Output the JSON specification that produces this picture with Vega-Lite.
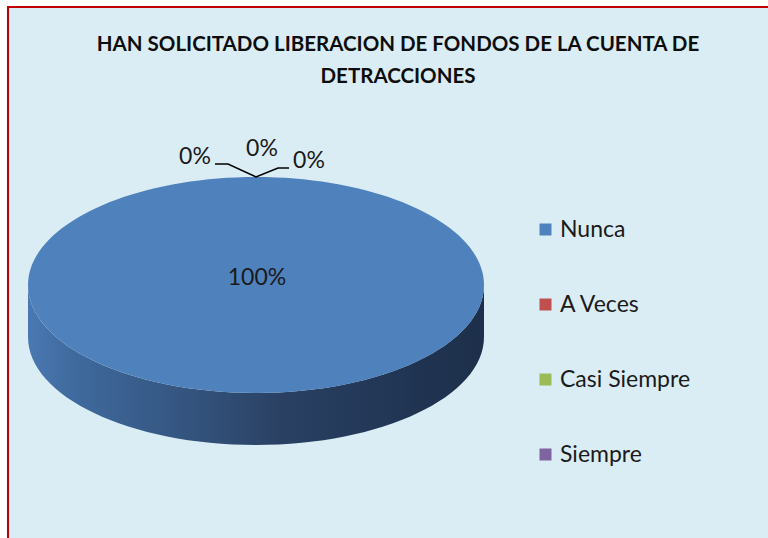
{
  "$schema": "https://vega.github.io/schema/vega-lite/v6.json",
  "width": 760,
  "height": 531,
  "autosize": {"type": "none"},
  "padding": {"left": 8, "top": 7, "right": 0, "bottom": 0},
  "background": "white",
  "config": {
    "font": "Lato",
    "view": {"fill": "#dbedf4", "stroke": "#c00000", "strokeWidth": 2, "strokeDash": [760, 1291, 531]},
    "axis": {"disable": true}
  },
  "title": {
    "text": ["HAN SOLICITADO LIBERACION DE FONDOS DE LA CUENTA DE", "DETRACCIONES"],
    "font": "Lato",
    "fontSize": 20.5,
    "fontWeight": "bold",
    "color": "#0d0d0d",
    "lineHeight": 32,
    "anchor": "middle",
    "offset": -80,
    "dx": 10
  },
  "data": {
    "values": [
      {"category": "Nunca", "value": 1},
      {"category": "A Veces", "value": 0},
      {"category": "Casi Siempre", "value": 0},
      {"category": "Siempre", "value": 0}
    ]
  },
  "encoding": {
    "x": {"datum": 0, "type": "quantitative", "scale": {"domain": [-1, 1], "range": [20, 476]}, "axis": null},
    "y": {"datum": 0, "type": "quantitative", "scale": {"domain": [-1, 1], "range": [386, 170]}, "axis": null}
  },
  "layer": [
    {
      "transform": [{"filter": "datum.value > 0"}],
      "mark": {
        "type": "point",
        "filled": true,
        "opacity": 1,
        "strokeWidth": 0,
        "size": 207936,
        "shape": "M -1 0 L -1 0.228 C -1 0.4896 -0.5523 0.7017 0 0.7017 C 0.5523 0.7017 1 0.4896 1 0.228 L 1 0 C 1 0.2616 0.5523 0.4737 0 0.4737 C -0.5523 0.4737 -1 0.2616 -1 0 Z",
        "fill": {
          "gradient": "linear",
          "x1": 0, "y1": 0, "x2": 1, "y2": 0,
          "stops": [
            {"offset": 0, "color": "#4a78b2"},
            {"offset": 0.1, "color": "#3f6a9e"},
            {"offset": 0.35, "color": "#34547e"},
            {"offset": 0.55, "color": "#2a4164"},
            {"offset": 0.85, "color": "#203452"},
            {"offset": 1, "color": "#1d2f4a"}
          ]
        }
      }
    },
    {
      "transform": [{"filter": "datum.value > 0"}],
      "mark": {
        "type": "point",
        "filled": true,
        "opacity": 1,
        "strokeWidth": 0,
        "size": 207936,
        "shape": "M -1 0 C -1 -0.2616 -0.5523 -0.4737 0 -0.4737 C 0.5523 -0.4737 1 -0.2616 1 0 C 1 0.2616 0.5523 0.4737 0 0.4737 C -0.5523 0.4737 -1 0.2616 -1 0 Z"
      },
      "encoding": {
        "color": {
          "field": "category",
          "type": "nominal",
          "scale": {
            "domain": ["Nunca", "A Veces", "Casi Siempre", "Siempre"],
            "range": ["#4f81bd", "#c0504d", "#9bbb59", "#8064a2"]
          },
          "legend": {
            "title": null,
            "orient": "none",
            "legendX": 526,
            "legendY": 211,
            "padding": 0,
            "symbolType": "square",
            "symbolSize": 144,
            "symbolStrokeWidth": 0,
            "symbolOpacity": 1,
            "labelFont": "Lato",
            "labelFontSize": 23,
            "labelColor": "#1a1a1a",
            "labelOffset": 3,
            "rowPadding": 51
          }
        }
      }
    },
    {
      "transform": [{"filter": "datum.value > 0"}],
      "mark": {"type": "text", "fontSize": 23, "color": "#1a1a1a", "dy": -7, "dx": 1},
      "encoding": {"text": {"field": "value", "type": "quantitative", "format": ".0%"}}
    },
    {
      "mark": {"type": "point", "shape": "M -41 -13 L -28 -13 L 0 0 L 22 -9 L 33 -9", "size": 4, "filled": false, "stroke": "black", "strokeWidth": 1.6, "opacity": 1},
      "data": {"values": [{}]},
      "encoding": {"y": {"datum": 1, "type": "quantitative"}}
    },
    {
      "transform": [{"filter": "datum.category == 'A Veces'"}],
      "mark": {"type": "text", "fontSize": 23, "color": "#1a1a1a", "dx": -61, "dy": -20},
      "encoding": {"y": {"datum": 1, "type": "quantitative"}, "text": {"field": "value", "type": "quantitative", "format": ".0%"}}
    },
    {
      "transform": [{"filter": "datum.category == 'Casi Siempre'"}],
      "mark": {"type": "text", "fontSize": 23, "color": "#1a1a1a", "dx": 6, "dy": -28},
      "encoding": {"y": {"datum": 1, "type": "quantitative"}, "text": {"field": "value", "type": "quantitative", "format": ".0%"}}
    },
    {
      "transform": [{"filter": "datum.category == 'Siempre'"}],
      "mark": {"type": "text", "fontSize": 23, "color": "#1a1a1a", "dx": 53, "dy": -16},
      "encoding": {"y": {"datum": 1, "type": "quantitative"}, "text": {"field": "value", "type": "quantitative", "format": ".0%"}}
    }
  ]
}
